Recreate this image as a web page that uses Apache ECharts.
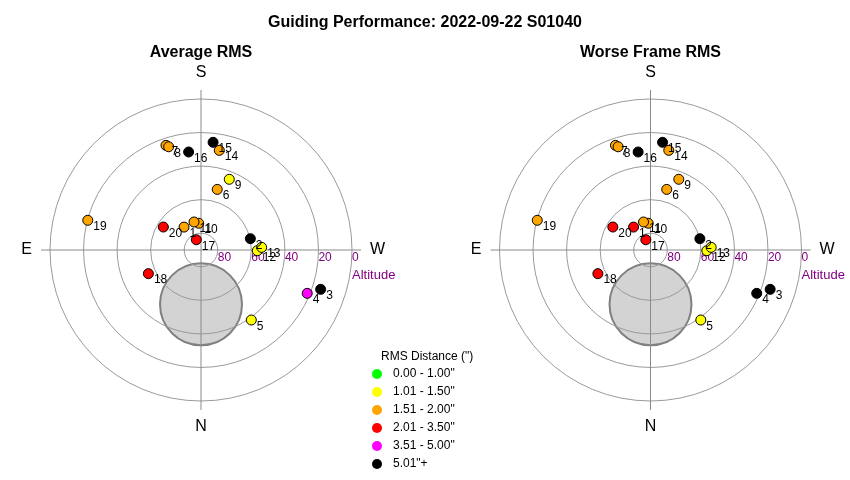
<!DOCTYPE html>
<html><head><meta charset="utf-8">
<script src="https://cdn.jsdelivr.net/npm/echarts@6/dist/echarts.min.js"></script>
<style>html,body{margin:0;padding:0;background:#fff}#c{width:850px;height:480px}</style>
</head><body><div id="c"></div>
<script>
// ---- data ----
const frameIds  = [1, 2, 3, 4, 5, 6, 7, 8, 9, 10, 11, 12, 13, 14, 15, 16, 17, 18, 19, 20];
const altitude  = [73.0, 59.8, 14.9, 21.6, 38.6, 52.6, 24.2, 25.5, 44.6, 74.0, 72.8, 56.4, 53.8, 29.6, 25.4, 31.1, 83.3, 55.6, 20.2, 63.7];
const azimuth   = [143.5, 257.1, 288.2, 292.2, 324.3, 195.0, 161.5, 162.6, 201.8, 175.1, 166.0, 270.7, 267.5, 190.4, 186.4, 172.8, 155.5, 65.8, 104.7, 121.4];
const avgRms    = [1.80, 5.30, 5.60, 4.20, 1.40, 1.70, 1.90, 1.80, 1.45, 1.70, 1.80, 1.30, 1.40, 1.90, 5.20, 5.40, 2.40, 2.60, 1.90, 2.30];
const worstRms  = [2.20, 6.10, 6.40, 5.30, 1.50, 1.90, 2.00, 1.95, 1.60, 1.90, 1.95, 1.45, 1.50, 2.00, 6.00, 6.20, 2.80, 3.00, 2.00, 2.70];
const moonAlt = 57.6;
const moonAz = 0;
const compassLabels = { 0: 'N', 90: 'E', 180: 'S', 270: 'W' };
const rmsLower  = [null, 1.00, 1.50, 2.00, 3.50, 5.00];
const rmsUpper  = [1.00, 1.50, 2.00, 3.50, 5.00, null];
const rmsLabels = ['0.00 - 1.00"', '1.01 - 1.50"', '1.51 - 2.00"', '2.01 - 3.50"', '3.51 - 5.00"', '5.01"+'];
const rmsColors = ['#00ff00', '#ffff00', '#ffa500', '#ff0000', '#ff00ff', '#000000'];
const panelTitles = ['Average RMS', 'Worse Frame RMS'];

// ---- layout ----
const FONT = '"Liberation Sans", Arial, sans-serif';
const centers = [[201, 250], [650.5, 250]];
const panelRms = [avgRms, worstRms];

const polar = [], angleAxis = [], radiusAxis = [], series = [], graphic = [];
centers.forEach((c, p) => {
  const dataIdx = polar.length;
  polar.push({ center: c, radius: 160 });
  const ringIdx = polar.length;
  polar.push({ center: c, radius: 151 });

  angleAxis.push({
    polarIndex: dataIdx, type: 'value', min: 0, max: 360, interval: 90,
    startAngle: 270, clockwise: true, z: 1,
    axisLine: { show: false }, axisTick: { show: false },
    splitLine: { show: true, lineStyle: { color: '#8a8a8a', width: 1 } },
    axisLabel: { show: true, margin: 9, fontSize: 16, color: '#000', fontFamily: FONT,
      formatter: v => compassLabels[v] || '' }
  });
  radiusAxis.push({ polarIndex: dataIdx, type: 'value', inverse: true, min: -5.4, max: 90, show: false });

  angleAxis.push({ polarIndex: ringIdx, type: 'value', min: 0, max: 360, startAngle: 0, show: false });
  radiusAxis.push({
    polarIndex: ringIdx, type: 'value', inverse: true, min: 0, max: 90, interval: 20, z: 1,
    axisLine: { show: false }, axisTick: { show: false },
    splitLine: { show: true, lineStyle: { color: '#9a9a9a', width: 1 } },
    axisLabel: { show: true, color: '#800080', fontSize: 12, fontFamily: FONT, margin: -2,
      align: 'left', verticalAlign: 'top', formatter: v => (v === 90 ? '' : String(v)) }
  });

  series.push({
    type: 'scatter', coordinateSystem: 'polar', polarIndex: dataIdx, z: 3,
    data: frameIds.map((id, i) => ({ name: String(id), value: [altitude[i], azimuth[i], panelRms[p][i]] })),
    symbolSize: 10,
    itemStyle: { borderColor: '#000', borderWidth: 1, opacity: 1 },
    label: { show: true, formatter: '{b}', position: [11, 6], fontSize: 12, color: '#000', fontFamily: FONT },
    emphasis: { disabled: true }
  });
  series.push({
    type: 'scatter', coordinateSystem: 'polar', polarIndex: dataIdx, z: 0, silent: true,
    data: [[moonAlt, moonAz]], symbolSize: 82,
    itemStyle: { color: '#d3d3d3', borderColor: '#808080', borderWidth: 2, opacity: 1 }
  });

  graphic.push({ type: 'text', x: c[0], y: 53, style: { text: panelTitles[p], font: 'bold 16px ' + FONT, textAlign: 'center', textVerticalAlign: 'middle', fill: '#000' } });
  graphic.push({ type: 'text', x: c[0] + 151, y: 275, style: { text: 'Altitude', font: '13px ' + FONT, textAlign: 'left', textVerticalAlign: 'middle', fill: '#800080' } });
});

graphic.push({ type: 'text', x: 381, y: 357, style: { text: 'RMS Distance (")', font: '12px ' + FONT, textAlign: 'left', textVerticalAlign: 'middle', fill: '#000' } });

const pieces = rmsLabels.map((lab, i) => {
  const pc = { label: lab, color: rmsColors[i] };
  if (rmsLower[i] !== null) pc.gt = rmsLower[i];
  if (rmsUpper[i] !== null) pc.lte = rmsUpper[i];
  return pc;
});

const chart = echarts.init(document.getElementById('c'));
chart.setOption({
  animation: false,
  backgroundColor: '#fff',
  title: { text: 'Guiding Performance: 2022-09-22 S01040', left: 'center', top: 10,
    textStyle: { fontSize: 16, fontWeight: 'bold', color: '#000', fontFamily: FONT } },
  polar, angleAxis, radiusAxis, series, graphic,
  visualMap: {
    type: 'piecewise', seriesIndex: [0, 2], dimension: 2, pieces, inverse: true,
    orient: 'vertical', left: 357, top: 353, itemWidth: 10, itemHeight: 10, itemGap: 6,
    itemSymbol: 'circle', textGap: 11, selectedMode: false,
    textStyle: { fontSize: 12, color: '#000', fontFamily: FONT }
  }
});
</script></body></html>
